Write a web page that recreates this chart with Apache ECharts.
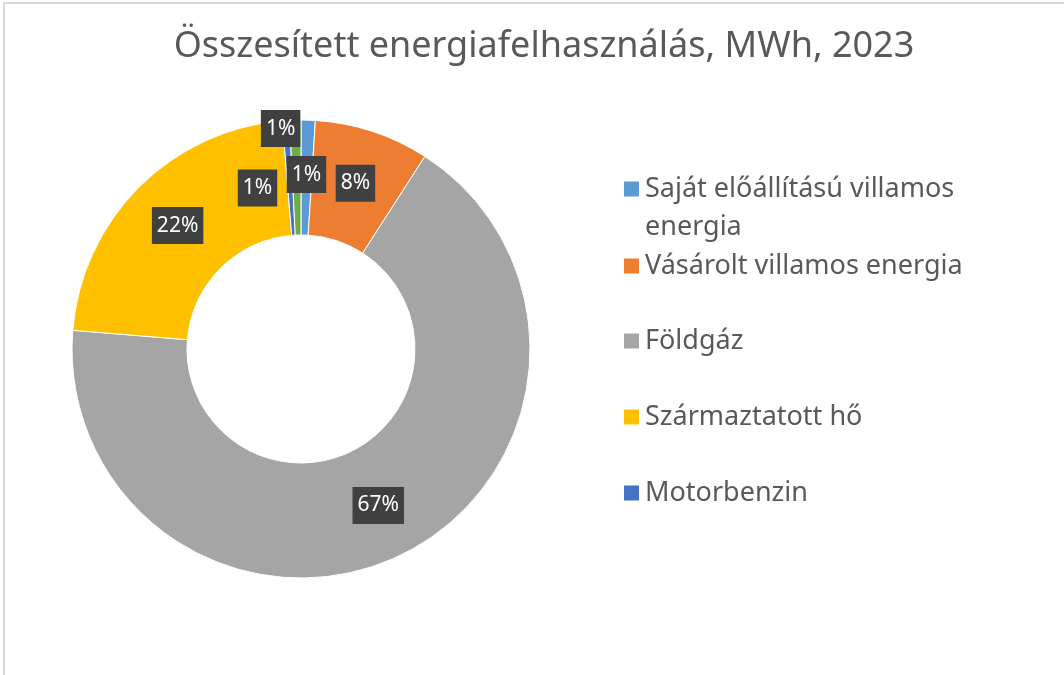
<!DOCTYPE html>
<html>
<head>
<meta charset="utf-8">
<script src="https://cdn.jsdelivr.net/npm/echarts@6/dist/echarts.min.js"></script>
<style>
  html, body { margin: 0; padding: 0; background: #fff; }
  #frame { position: absolute; left: 3px; top: 2px; width: 1100px; height: 700px; border-left: 2px solid #d9d9d9; border-top: 2px solid #d9d9d9; }
  #main { position: absolute; left: 0; top: 0; width: 1064px; height: 675px; }
</style>
</head>
<body>
<div id="frame"></div>
<div id="main"></div>
<script>
// adatok
const names = ["Saját előállítású villamos energia", "Vásárolt villamos energia", "Földgáz", "Származtatott hő", "Motorbenzin", "Gázolaj"];
const values = [1.0, 8.1, 67.2, 22.4, 0.5, 0.8];
const colors = ["#5B9BD5", "#ED7D31", "#A5A5A5", "#FFC000", "#4472C4", "#70AD47"];
const legendNames = ["Saját előállítású villamos energia", "Vásárolt villamos energia", "Földgáz", "Származtatott hő", "Motorbenzin"];

const chart = echarts.init(document.getElementById("main"));

const legendTops = [127, 242, 317, 393, 469];
const legends = legendNames.map(function (n, i) {
  return {
    data: [n],
    orient: "vertical",
    left: 617,
    top: legendTops[i],
    icon: "rect",
    itemWidth: 17,
    itemHeight: 17,
    itemGap: 0,
    selectedMode: false,
    formatter: function (name) {
      // az első tétel két sorba törik, a jel az első sorhoz igazodik
      return name === names[0] ? " \nSaját előállítású villamos\nenergia" : name;
    },
    textStyle: {
      fontFamily: "Noto Sans",
      fontSize: 27,
      color: "#595959",
      lineHeight: 38
    }
  };
});

// címkék kézi eltolása a kis szeleteknél
const labelShift = { 4: [-32, 13], 5: [-16, -46] };

chart.setOption({
  color: colors,
  title: {
    text: "Összesített energiafelhasználás, MWh, 2023",
    left: 539,
    textAlign: "center",
    top: 24,
    textStyle: { fontFamily: "Noto Sans", fontSize: 36, fontWeight: "normal", color: "#595959" }
  },
  legend: legends,
  series: [{
    type: "pie",
    center: [301, 349],
    radius: [114, 229],
    startAngle: 90,
    avoidLabelOverlap: false,
    itemStyle: { borderColor: "#fff", borderWidth: 1 },
    label: {
      show: true,
      position: "inside",
      formatter: function (p) { return Math.max(1, Math.round(p.value)) + "%"; },
      backgroundColor: "#404040",
      color: "#fff",
      fontFamily: "Noto Sans",
      fontSize: 21,
      padding: [9, 5, 7, 5]
    },
    labelLine: { show: false },
    labelLayout: function (p) {
      const s = labelShift[p.dataIndex];
      return s ? { dx: s[0], dy: s[1] } : {};
    },
    emphasis: { disabled: true },
    data: names.map(function (n, i) { return { name: n, value: values[i] }; })
  }]
});
</script>
</body>
</html>
